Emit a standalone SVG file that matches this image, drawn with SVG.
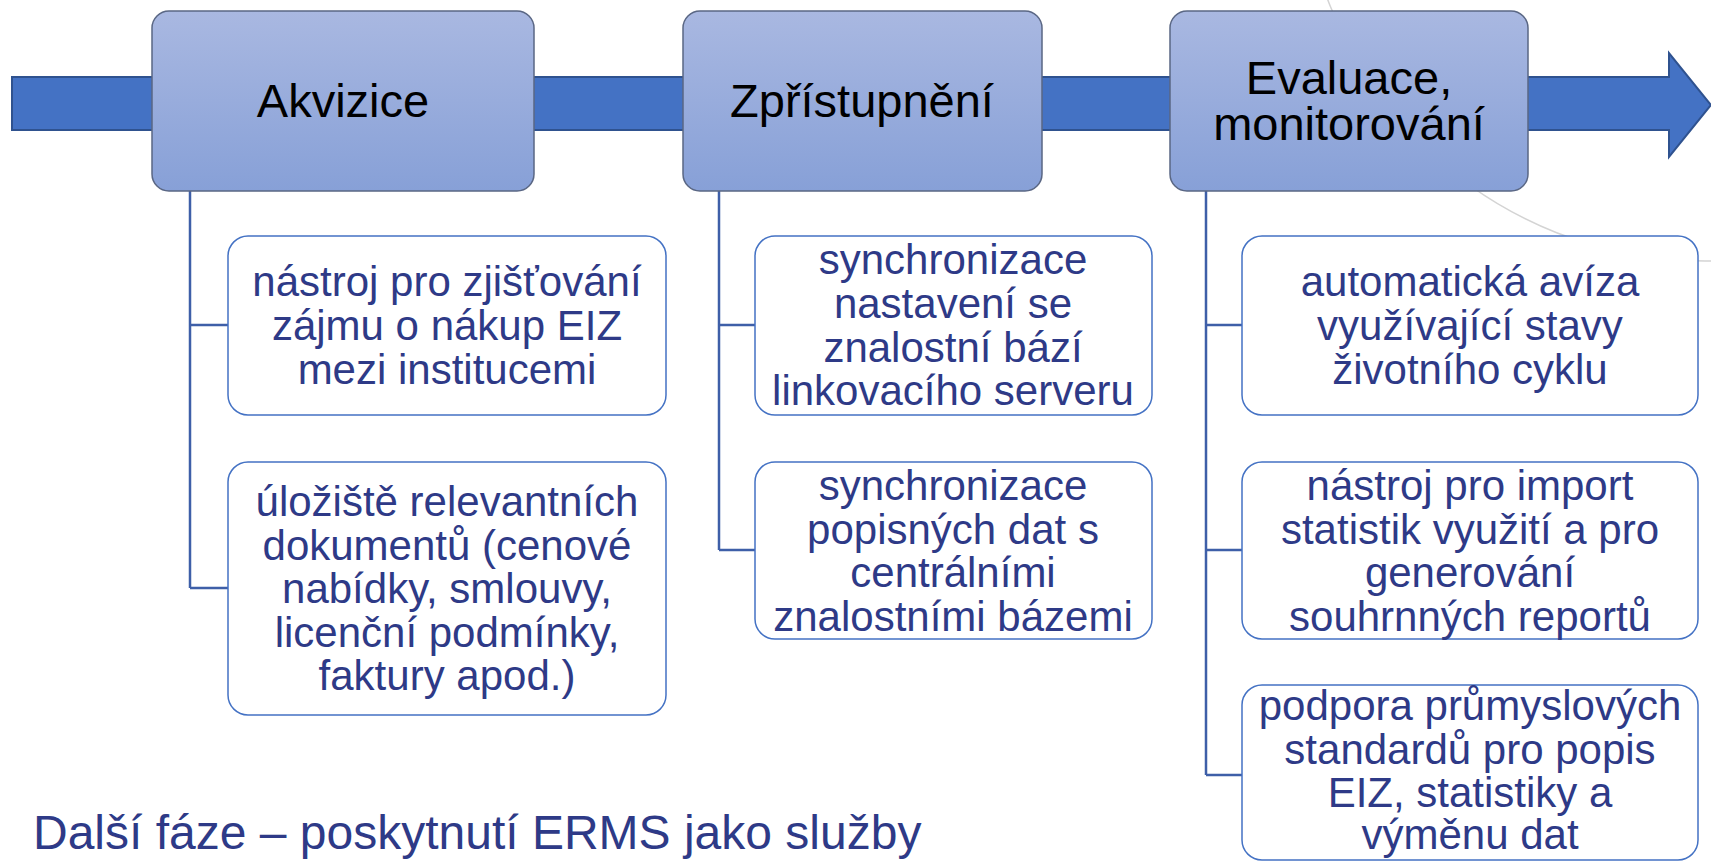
<svg xmlns="http://www.w3.org/2000/svg" width="1711" height="861" viewBox="0 0 1711 861">
<defs>
<linearGradient id="hdr" x1="0" y1="0" x2="0" y2="1">
<stop offset="0" stop-color="#a9b8e1"/>
<stop offset="1" stop-color="#87a0d7"/>
</linearGradient>
<style>
.hdr{fill:url(#hdr);stroke:#5a6784;stroke-width:1.5}
.ht{font-family:"Liberation Sans",Arial,sans-serif;font-size:47px;fill:#000;text-anchor:middle}
.cb{fill:#fff;stroke:#4472c4;stroke-width:1.5}
.ct{font-family:"Liberation Sans",Arial,sans-serif;font-size:42px;fill:#2e3a87;text-anchor:middle}
.cn{fill:none;stroke:#3e5fa8;stroke-width:2.5}
.ft{font-family:"Liberation Sans",Arial,sans-serif;font-size:48px;fill:#2e3a87}
</style>
</defs>
<rect width="1711" height="861" fill="#fff"/>
<circle cx="1705" cy="-142" r="403" fill="none" stroke="#d4d4d4" stroke-width="1.5"/>
<g id="timeline">
<polygon points="12,77 1669,77 1669,53 1711,105 1669,157 1669,130 12,130" fill="#4472c4" stroke="#2f528f" stroke-width="2"/>
</g>
<g id="connectors">
<path class="cn" d="M190,190 V588 M190,325 H228 M190,588 H228"/>
<path class="cn" d="M719,190 V550 M719,325 H755 M719,550 H755"/>
<path class="cn" d="M1206,190 V775 M1206,325 H1242 M1206,550 H1242 M1206,775 H1242"/>
</g>
<g id="akvizice">
<rect class="hdr" x="152" y="11" width="382" height="180" rx="17"/>
<text class="ht" x="343" y="117">Akvizice</text>
</g>
<g id="zpristupneni">
<rect class="hdr" x="683" y="11" width="359" height="180" rx="17"/>
<text class="ht" x="862" y="117">Zpřístupnění</text>
</g>
<g id="evaluace">
<rect class="hdr" x="1170" y="11" width="358" height="180" rx="17"/>
<text class="ht" x="1349" y="94">Evaluace,</text>
<text class="ht" x="1349" y="140">monitorování</text>
</g>
<g id="akv1">
<rect class="cb" x="228" y="236" width="438" height="179" rx="20"/>
<text class="ct" x="447"><tspan x="447" y="296">nástroj pro zjišťování</tspan><tspan x="447" y="340">zájmu o nákup EIZ</tspan><tspan x="447" y="384">mezi institucemi</tspan></text>
</g>
<g id="akv2">
<rect class="cb" x="228" y="462" width="438" height="253" rx="20"/>
<text class="ct" x="447"><tspan x="447" y="516">úložiště relevantních</tspan><tspan x="447" y="560">dokumentů (cenové</tspan><tspan x="447" y="603">nabídky, smlouvy,</tspan><tspan x="447" y="647">licenční podmínky,</tspan><tspan x="447" y="690">faktury apod.)</tspan></text>
</g>
<g id="zpr1">
<rect class="cb" x="755" y="236" width="397" height="179" rx="20"/>
<text class="ct" x="953"><tspan x="953" y="274">synchronizace</tspan><tspan x="953" y="318">nastavení se</tspan><tspan x="953" y="362">znalostní bází</tspan><tspan x="953" y="405">linkovacího serveru</tspan></text>
</g>
<g id="zpr2">
<rect class="cb" x="755" y="462" width="397" height="177" rx="20"/>
<text class="ct" x="953"><tspan x="953" y="500">synchronizace</tspan><tspan x="953" y="544">popisných dat s</tspan><tspan x="953" y="587">centrálními</tspan><tspan x="953" y="631">znalostními bázemi</tspan></text>
</g>
<g id="eva1">
<rect class="cb" x="1242" y="236" width="456" height="179" rx="20"/>
<text class="ct" x="1470"><tspan x="1470" y="296">automatická avíza</tspan><tspan x="1470" y="340">využívající stavy</tspan><tspan x="1470" y="384">životního cyklu</tspan></text>
</g>
<g id="eva2">
<rect class="cb" x="1242" y="462" width="456" height="177" rx="20"/>
<text class="ct" x="1470"><tspan x="1470" y="500">nástroj pro import</tspan><tspan x="1470" y="544">statistik využití a pro</tspan><tspan x="1470" y="587">generování</tspan><tspan x="1470" y="631">souhrnných reportů</tspan></text>
</g>
<g id="eva3">
<rect class="cb" x="1242" y="685" width="456" height="175" rx="20"/>
<text class="ct" x="1470"><tspan x="1470" y="720">podpora průmyslových</tspan><tspan x="1470" y="764">standardů pro popis</tspan><tspan x="1470" y="807">EIZ, statistiky a</tspan><tspan x="1470" y="849">výměnu dat</tspan></text>
</g>
<g id="footer">
<text class="ft" x="33" y="849">Další fáze – poskytnutí ERMS jako služby</text>
</g>
</svg>
